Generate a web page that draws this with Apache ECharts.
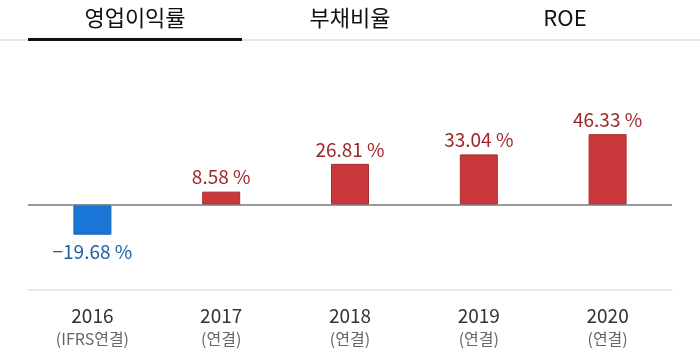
<!DOCTYPE html>
<html>
<head>
<meta charset="utf-8">
<script src="https://cdn.jsdelivr.net/npm/echarts@6/dist/echarts.min.js"></script>
<style>
html, body { margin: 0; padding: 0; background: #fff; }
#chart { width: 700px; height: 353px; }
</style>
</head>
<body>
<div id="chart"></div>
<script>
var years = ['2016', '2017', '2018', '2019', '2020'];
var subLabels = ['(IFRS연결)', '(연결)', '(연결)', '(연결)', '(연결)'];
var margins = [-19.68, 8.58, 26.81, 33.04, 46.33];
var tabs = ['영업이익률', '부채비율', 'ROE'];

var FONT = '"Noto Sans CJK KR", "Noto Sans", sans-serif';

var myChart = echarts.init(document.getElementById('chart'));

var barData = margins.map(function (v) {
    var neg = v < 0;
    return {
        value: v,
        itemStyle: {
            color: neg ? '#1976d6' : '#c9373a',
            borderColor: neg ? '#1565b8' : '#a92e31',
            borderWidth: 1
        },
        label: {
            position: neg ? 'bottom' : 'top',
            distance: neg ? 8 : 5,
            color: neg ? '#1c5fa5' : '#9e2629'
        }
    };
});

var tabCenters = [135, 350, 565];

option = {
    animation: false,
    textStyle: { fontFamily: FONT },
    graphic: [
        {
            type: 'rect',
            shape: { x: 0, y: 39, width: 700, height: 2 },
            style: { fill: '#e6e6e6' }
        },
        {
            type: 'rect',
            shape: { x: 28, y: 38, width: 214, height: 3 },
            style: { fill: '#111' }
        }
    ].concat(tabs.map(function (t, i) {
        return {
            type: 'text',
            x: tabCenters[i],
            y: 18,
            style: {
                text: t,
                fill: '#111',
                font: '22px ' + FONT,
                textAlign: 'center',
                textVerticalAlign: 'middle'
            }
        };
    })),
    grid: {
        left: 28,
        right: 28,
        top: 60,
        bottom: 63
    },
    xAxis: {
        type: 'category',
        data: years,
        axisLine: {
            onZero: false,
            lineStyle: { color: '#e8e8e8', width: 2 }
        },
        axisTick: { show: false },
        axisLabel: {
            margin: 14,
            formatter: function (val, idx) {
                return '{y|' + val + '}\n{s|' + subLabels[idx] + '}';
            },
            rich: {
                y: { fontSize: 19, color: '#333', lineHeight: 24, fontFamily: FONT },
                s: { fontSize: 16, color: '#666', lineHeight: 22, fontFamily: FONT }
            }
        }
    },
    yAxis: {
        type: 'value',
        min: -56,
        max: 95,
        show: false,
        splitLine: { show: false }
    },
    series: [
        {
            type: 'bar',
            barWidth: 38,
            data: barData,
            label: {
                show: true,
                fontSize: 19,
                fontFamily: FONT,
                formatter: function (p) {
                    return String(p.value).replace('-', '\u2212') + ' %';
                }
            },
            markLine: {
                silent: true,
                symbol: 'none',
                label: { show: false },
                lineStyle: { color: '#7a7a7a', width: 1.5, type: 'solid' },
                data: [{ yAxis: 0 }]
            }
        }
    ]
};
myChart.setOption(option);
</script>
</body>
</html>
